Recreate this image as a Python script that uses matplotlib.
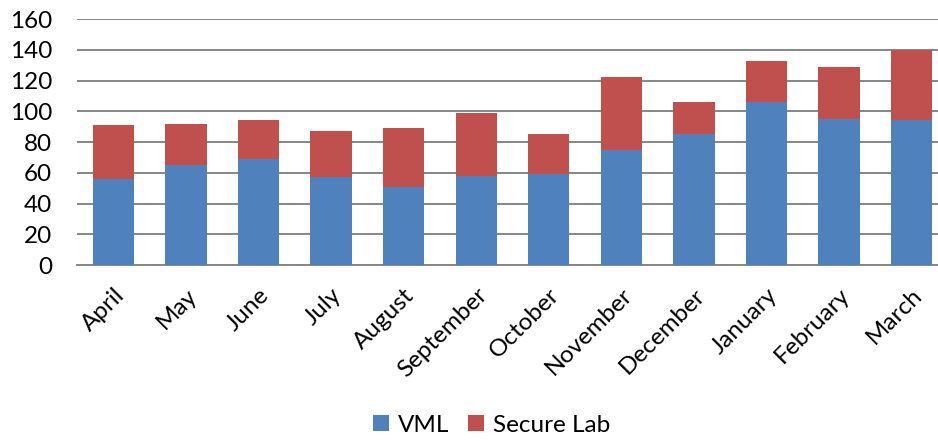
import numpy as np
import matplotlib
matplotlib.use('Agg')
import matplotlib.pyplot as plt

# monthly counts
months = ['April', 'May', 'June', 'July', 'August', 'September',
          'October', 'November', 'December', 'January', 'February', 'March']
vml = [56, 65, 69, 57, 51, 58, 59, 75, 85, 106, 95, 94]
secure_lab = [35, 27, 25, 30, 38, 41, 26, 47, 21, 27, 34, 46]

plt.rcParams['font.family'] = ['Lato', 'DejaVu Sans']

fig = plt.figure(figsize=(9.38, 4.41), dpi=100)
ax = fig.add_axes([77/938, 1 - 265/441, 871/938, 246/441])

x = np.arange(len(months))
ax.bar(x, vml, width=0.57, color='#4F81BD', label='VML', zorder=3)
ax.bar(x, secure_lab, width=0.57, bottom=vml, color='#C0504D',
       label='Secure Lab', zorder=3)

ax.set_ylim(0, 160)
ax.set_xlim(-0.5, 11.5)
ax.set_yticks(range(0, 161, 20))
ax.yaxis.grid(True, color='#868686', linewidth=1.4, zorder=0)
ax.set_axisbelow(True)
for s in ['top', 'right', 'left']:
    ax.spines[s].set_visible(False)
ax.spines['bottom'].set_color('#868686')
ax.spines['bottom'].set_linewidth(1.4)
ax.tick_params(axis='y', length=0, pad=18, labelsize=17.5)
ax.tick_params(axis='x', length=0, pad=14, labelsize=17.5)
ax.set_xticks(x)
ax.set_xticklabels(months, rotation=45, ha='right', rotation_mode='anchor')

fig.legend(loc='lower center', ncol=2, frameon=False, fontsize=17.5,
           bbox_to_anchor=(0.524, -0.038), handlelength=0.65, handleheight=0.65,
           handletextpad=0.35, columnspacing=0.8)

fig.savefig('out.png', dpi=100)
